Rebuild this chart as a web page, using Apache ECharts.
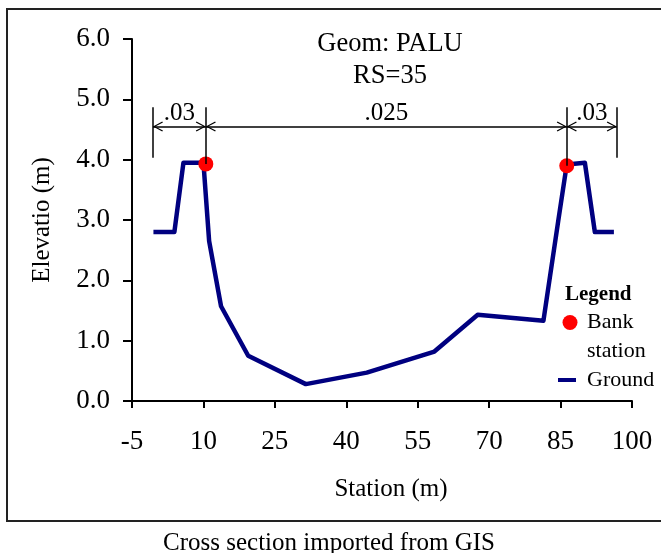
<!DOCTYPE html>
<html>
<head>
<meta charset="utf-8">
<script src="https://cdn.jsdelivr.net/npm/echarts@6.0.0/dist/echarts.min.js"></script>
<style>
html,body{margin:0;padding:0;background:#fff;}
#mainChart{width:661px;height:553px;}
</style>
</head>
<body>
<div id="mainChart"></div>
<script>
'use strict'
// cross section
var stations   = [-0.5, 3.9, 5.8, 10.0, 11.2, 13.7, 19.4, 31.5, 44.3, 58.5, 67.6, 81.4, 84.5, 86.3, 90.1, 92.2, 96.2];
var elevations = [2.8, 2.8, 3.95, 3.95, 2.65, 1.57, 0.75, 0.28, 0.47, 0.82, 1.43, 1.33, 2.98, 3.92, 3.95, 2.8, 2.8];
var bankStations   = [10.5, 86.3];
var bankElevations = [3.93, 3.9];
var reachEnds = [-0.6, 96.8];
var manningN  = ['.03', '.025', '.03'];
var xTicks = [-5, 10, 25, 40, 55, 70, 85, 100];

var font = 'Liberation Serif';
var dimY = 4.55, dimTop = 4.87, dimBottom = 4.03;
var chevron = 'path://M0,0 M5,10 L10,19.3 L9.1,20 L5,12.3 L0.9,20 L0,19.3 Z';
var dash = 'path://M0,0 M24,15 M0,5.5 L18,5.5 L18,9.5 L0,9.5 Z';

var ground = stations.map(function(s, i){ return [s, elevations[i]]; });
var banks = bankStations.map(function(s, i){ return [s, bankElevations[i]]; });

var limits = [reachEnds[0], bankStations[0], bankStations[1], reachEnds[1]];
var dims = [];
for (var i = 0; i < 3; i++) {
    dims.push([{coord:[limits[i], dimY], name: manningN[i]}, {coord:[limits[i+1], dimY]}]);
}
var vBottoms = [dimBottom, bankElevations[0], bankElevations[1], dimBottom];
limits.forEach(function(x, i){
    dims.push([{coord:[x, dimTop], symbol:'none', label:{show:false}}, {coord:[x, vBottoms[i]], symbol:'none'}]);
});

var myChart = echarts.init(document.getElementById('mainChart'));
myChart.setOption({
    animation: false,
    textStyle: {fontFamily: font},
    title: [
        {text: 'Geom: PALU\nRS=35', left: 385, textAlign: 'center', top: 23,
         textStyle: {fontFamily: font, fontSize: 26.5, fontWeight: 'normal', color: '#000', lineHeight: 32}},
        {text: 'Legend', left: 560, top: 279,
         textStyle: {fontFamily: font, fontSize: 21, fontWeight: 'bold', color: '#000'}},
        {text: 'Cross section imported from GIS', left: 324, textAlign: 'center', top: 526,
         textStyle: {fontFamily: font, fontSize: 25, fontWeight: 'normal', color: '#000'}}
    ],
    graphic: [{
        type: 'rect', shape: {x: 7, y: 9, width: 660, height: 512},
        style: {fill: 'none', stroke: '#222', lineWidth: 2}, silent: true
    }],
    legend: {
        orient: 'vertical', left: 558, top: 283, padding: 0, itemGap: 7,
        itemWidth: 24, itemHeight: 15, selectedMode: false,
        data: [
            {name: 'Bank station', icon: 'circle', itemStyle: {color: '#ff0000', opacity: 1}},
            {name: 'Ground', icon: dash, itemStyle: {color: '#000080'}}
        ],
        formatter: function(name){
            return name === 'Bank station' ? '{e| }\n{t|Bank}\n{t|station}' : '{t|Ground}';
        },
        textStyle: {
            fontFamily: font, fontSize: 22, color: '#000',
            rich: {
                e: {fontFamily: font, fontSize: 22, lineHeight: 28.5},
                t: {fontFamily: font, fontSize: 22, lineHeight: 28.5, color: '#000'}
            }
        }
    },
    grid: {left: 132, right: 29, top: 39, bottom: 152},
    xAxis: {
        type: 'value', min: -5, max: 100,
        name: 'Station (m)', nameLocation: 'middle', nameGap: 76,
        nameTextStyle: {fontFamily: font, fontSize: 25, color: '#000', padding: [0, 0, 0, 18]},
        axisLine: {lineStyle: {color: '#000', width: 2}},
        axisTick: {length: 7, lineStyle: {color: '#000', width: 2}, customValues: xTicks},
        axisLabel: {fontFamily: font, fontSize: 27, color: '#000', margin: 27, customValues: xTicks},
        splitLine: {show: false}
    },
    yAxis: {
        type: 'value', min: 0, max: 6, interval: 1,
        name: 'Elevatio (m)', nameLocation: 'middle', nameGap: 77,
        nameTextStyle: {fontFamily: font, fontSize: 25, color: '#000'},
        axisLine: {onZero: false, lineStyle: {color: '#000', width: 2}},
        axisTick: {length: 9, lineStyle: {color: '#000', width: 2}},
        axisLabel: {fontFamily: font, fontSize: 27, color: '#000', margin: 22,
            formatter: function(v){ return v.toFixed(1); }},
        splitLine: {show: false}
    },
    series: [
        {
            name: 'Ground', type: 'line', data: ground, symbol: 'none',
            lineStyle: {color: '#000080', width: 4.5, join: 'round'},
            itemStyle: {color: '#000080'}, z: 2
        },
        {
            name: 'Bank station', type: 'scatter', data: banks, symbolSize: 15,
            itemStyle: {color: '#ff0000', opacity: 1}, z: 4
        },
        {
            name: 'dims', type: 'line', data: [], z: 3,
            markLine: {
                silent: true, animation: false,
                symbol: [chevron, chevron], symbolSize: [10, 20],
                lineStyle: {color: '#000', width: 1.5, type: 'solid'},
                label: {show: true, position: 'middle', formatter: '{b}', distance: 1,
                    fontFamily: font, fontSize: 25, color: '#000'},
                emphasis: {disabled: true},
                data: dims
            }
        }
    ]
});
</script>
</body>
</html>
